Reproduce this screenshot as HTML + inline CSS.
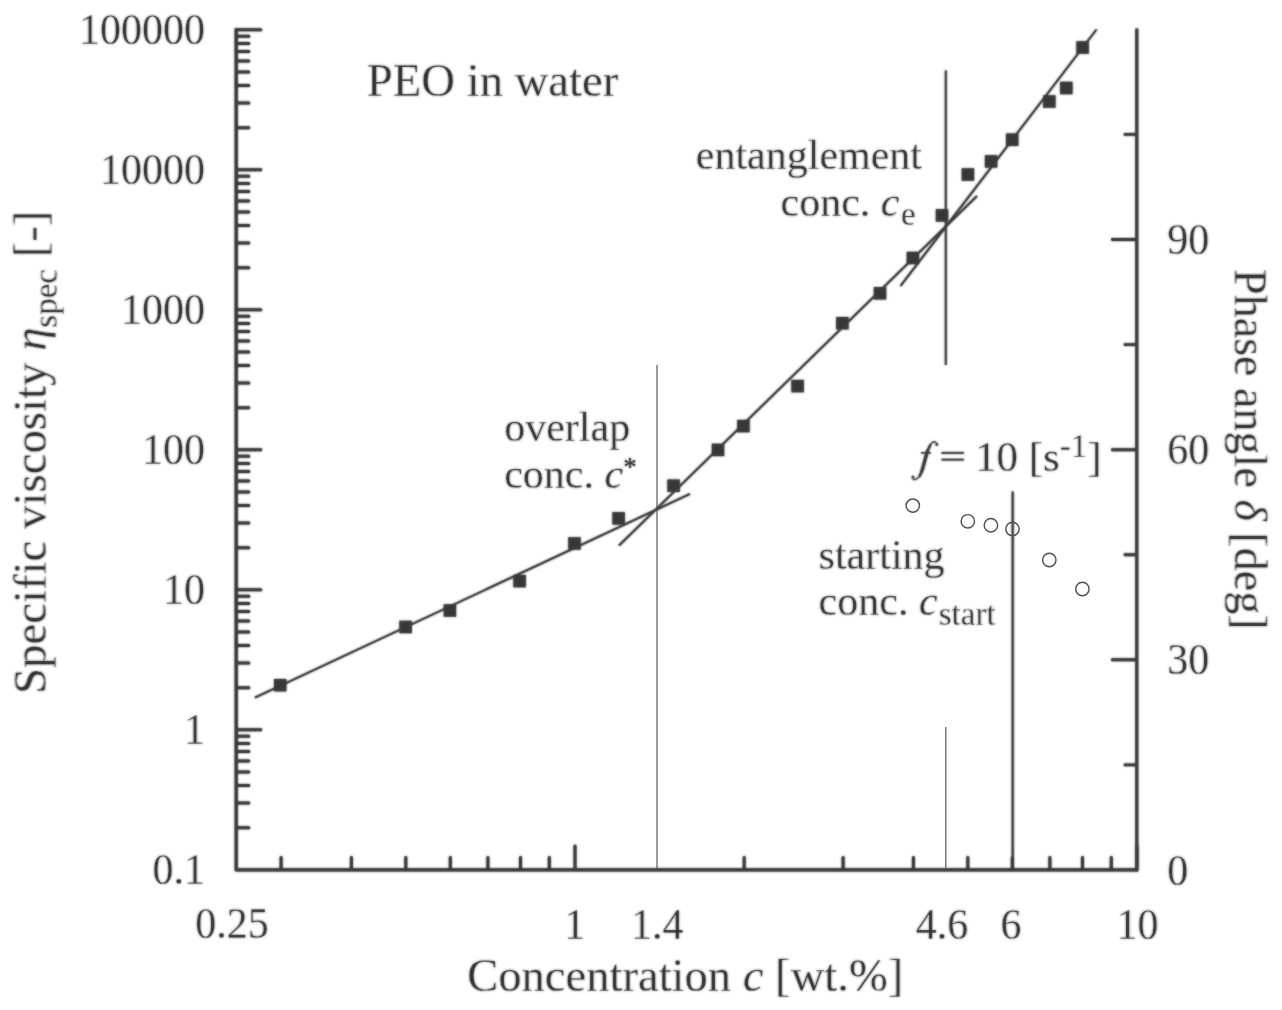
<!DOCTYPE html>
<html><head><meta charset="utf-8"><title>PEO in water</title>
<style>
html,body{margin:0;padding:0;background:#fff;}
body{width:1282px;height:1010px;position:relative;overflow:hidden;font-family:"Liberation Serif",serif;}
</style></head><body>
<svg width="1282" height="1010" viewBox="0 0 1282 1010" style="position:absolute;left:0;top:0">
<defs><filter id="b" filterUnits="userSpaceOnUse" x="0" y="0" width="1282" height="1010"><feGaussianBlur stdDeviation="0.8"/></filter><g id="all">
<g stroke="#393939" fill="none" stroke-linecap="butt">
<path d="M236.2 28.2 V869.9 H1137" stroke-width="3.2" stroke-linejoin="round"/>
<path d="M1136.8 28.4 V871.5" stroke-width="3.0"/>
<path d="M237.5 827.7H248.8 M237.5 803.0H248.8 M237.5 785.5H248.8 M237.5 771.9H248.8 M237.5 760.9H248.8 M237.5 751.5H248.8 M237.5 743.4H248.8 M237.5 736.2H248.8 M237.5 729.8H260.8 M237.5 687.7H248.8 M237.5 663.0H248.8 M237.5 645.5H248.8 M237.5 631.9H248.8 M237.5 620.9H248.8 M237.5 611.5H248.8 M237.5 603.4H248.8 M237.5 596.2H248.8 M237.5 589.8H260.8 M237.5 547.7H248.8 M237.5 523.0H248.8 M237.5 505.5H248.8 M237.5 491.9H248.8 M237.5 480.9H248.8 M237.5 471.5H248.8 M237.5 463.4H248.8 M237.5 456.2H248.8 M237.5 449.8H260.8 M237.5 407.7H248.8 M237.5 383.0H248.8 M237.5 365.5H248.8 M237.5 351.9H248.8 M237.5 340.9H248.8 M237.5 331.5H248.8 M237.5 323.4H248.8 M237.5 316.2H248.8 M237.5 309.8H260.8 M237.5 267.7H248.8 M237.5 243.0H248.8 M237.5 225.5H248.8 M237.5 211.9H248.8 M237.5 200.9H248.8 M237.5 191.5H248.8 M237.5 183.4H248.8 M237.5 176.2H248.8 M237.5 169.8H260.8 M237.5 127.7H248.8 M237.5 103.0H248.8 M237.5 85.5H248.8 M237.5 71.9H248.8 M237.5 60.9H248.8 M237.5 51.5H248.8 M237.5 43.4H248.8 M237.5 36.2H248.8 M237.5 29.8H260.8" stroke-width="3.0" stroke-linecap="round"/>
<path d="M281.1 868.5V857.4 M351.4 868.5V857.4 M405.8 868.5V857.4 M450.3 868.5V857.4 M487.9 868.5V857.4 M520.5 868.5V857.4 M549.3 868.5V857.4 M744.2 868.5V857.4 M843.1 868.5V857.4 M913.4 868.5V857.4 M967.8 868.5V857.4 M1012.3 868.5V857.4 M1049.9 868.5V857.4 M1082.5 868.5V857.4 M1111.3 868.5V857.4 M575.0 868.5V846 M1137.0 868.5V846" stroke-width="3.0" stroke-linecap="round"/>
<path d="M1135.5 659.8H1112.4 M1135.5 449.7H1112.4 M1135.5 239.5H1112.4 M1135.5 764.9H1125 M1135.5 554.8H1125 M1135.5 344.6H1125 M1135.5 134.4H1125" stroke-width="2.9" stroke-linecap="round"/>
<path d="M945.8 70.5V365" stroke-width="1.9"/>
<path d="M1012.7 491.5V870" stroke-width="2.1"/>
<path d="M254.9 697.7L690 493.9" stroke-width="2.0"/>
<path d="M619 545.5L977 196" stroke-width="2.0"/>
<path d="M900.5 286L1096.5 29.5" stroke-width="2.0"/>
</g>
<g fill="#393939">
<rect x="274.0" y="679.0" width="12.4" height="12.4"/>
<rect x="399.4" y="620.8" width="12.4" height="12.4"/>
<rect x="443.7" y="604.3" width="12.4" height="12.4"/>
<rect x="513.4" y="574.9" width="12.4" height="12.4"/>
<rect x="568.3" y="537.3" width="12.4" height="12.4"/>
<rect x="612.4" y="512.2" width="12.4" height="12.4"/>
<rect x="667.4" y="479.5" width="12.4" height="12.4"/>
<rect x="711.8" y="443.7" width="12.4" height="12.4"/>
<rect x="737.2" y="419.9" width="12.4" height="12.4"/>
<rect x="791.4" y="379.9" width="12.4" height="12.4"/>
<rect x="836.2" y="317.0" width="12.4" height="12.4"/>
<rect x="873.8" y="287.1" width="12.4" height="12.4"/>
<rect x="906.7" y="251.8" width="12.4" height="12.4"/>
<rect x="935.8" y="209.2" width="12.4" height="12.4"/>
<rect x="961.7" y="168.3" width="12.4" height="12.4"/>
<rect x="984.9" y="155.2" width="12.4" height="12.4"/>
<rect x="1006.0" y="133.5" width="12.4" height="12.4"/>
<rect x="1043.1" y="95.3" width="12.4" height="12.4"/>
<rect x="1060.1" y="81.8" width="12.4" height="12.4"/>
<rect x="1076.4" y="41.3" width="12.4" height="12.4"/>
</g>
<g fill="#2c2c2c" font-family="Liberation Serif, serif" stroke="#fff" stroke-width="0.3">
<text transform="translate(205 44.4) scale(1 1.045)" font-size="42" text-anchor="end">100000</text>
<text transform="translate(205 184.4) scale(1 1.045)" font-size="42" text-anchor="end">10000</text>
<text transform="translate(205 324.4) scale(1 1.045)" font-size="42" text-anchor="end">1000</text>
<text transform="translate(205 464.4) scale(1 1.045)" font-size="42" text-anchor="end">100</text>
<text transform="translate(205 604.4) scale(1 1.045)" font-size="42" text-anchor="end">10</text>
<text transform="translate(205 744.4) scale(1 1.045)" font-size="42" text-anchor="end">1</text>
<text transform="translate(205 884.4) scale(1 1.045)" font-size="42" text-anchor="end">0.1</text>
<text transform="translate(232 938.5) scale(1 1.045)" font-size="42" text-anchor="middle">0.25</text>
<text transform="translate(574.8 938.5) scale(1 1.045)" font-size="42" text-anchor="middle">1</text>
<text transform="translate(657.3 938.5) scale(1 1.045)" font-size="42" text-anchor="middle">1.4</text>
<text transform="translate(942 938.5) scale(1 1.045)" font-size="42" text-anchor="middle">4.6</text>
<text transform="translate(1011 938.5) scale(1 1.045)" font-size="42" text-anchor="middle">6</text>
<text transform="translate(1137.6 938.5) scale(1 1.045)" font-size="42" text-anchor="middle">10</text>
<text transform="translate(1167.2 884.6) scale(1 1.045)" font-size="42" text-anchor="start">0</text>
<text transform="translate(1167.2 674.4) scale(1 1.045)" font-size="42" text-anchor="start">30</text>
<text transform="translate(1167.2 464.3) scale(1 1.045)" font-size="42" text-anchor="start">60</text>
<text transform="translate(1167.2 254.1) scale(1 1.045)" font-size="42" text-anchor="start">90</text>
<text x="366.8" y="95.7" font-size="46.7">PEO in water</text>
<text x="695.8" y="169.2" font-size="42">entanglement</text>
<text x="780.5" y="215.8" font-size="42">conc. <tspan font-style="italic">c</tspan><tspan font-size="33" dy="9.3" dx="1.5">e</tspan></text>
<text x="504.2" y="441.2" font-size="42">overlap</text>
<text x="504.2" y="488.2" font-size="42">conc. <tspan font-style="italic">c</tspan><tspan font-size="27" dy="-12.3" stroke="none">*</tspan></text>
<path d="M941.5 452.9H963.9M941.5 459.6H963.9" stroke="#393939" stroke-width="1.9" fill="none"/><text x="974.9" y="470.9" font-size="43">10 [s<tspan font-size="33" dy="-14">-1</tspan><tspan dy="14">]</tspan></text>
<g fill="none" stroke="#393939" stroke-linecap="round" stroke-linejoin="round"><path d="M936.6 444.6C936.9 442.6 935.4 441.9 934.2 441.9C932.3 441.9 930.9 443.6 929.6 446.2C928.4 448.6 927.4 451 926.6 453.6L922.4 469C921.5 472.3 920.6 474.6 919.3 476.5C917.9 478.5 916.3 479.7 914.6 479.7C913.4 479.7 912.7 478.9 912.9 477.4" stroke-width="1.3"/><path d="M930.2 445.4C928.6 448.2 927.5 450.9 926.7 453.6L922.5 469C921.7 472 920.8 474.3 919.6 476" stroke-width="2.3"/><path d="M927.6 450.8L926.6 454L922.8 468L921.8 471" stroke-width="3"/><path d="M921 452.9H930.8" stroke-width="1.5" stroke-linecap="butt"/></g>
<circle cx="936.8" cy="444.4" r="1.6" fill="#393939"/><circle cx="913" cy="477.2" r="1.6" fill="#393939"/>
<text x="818.6" y="568.7" font-size="42">starting</text>
<text x="818.6" y="615.3" font-size="42">conc. <tspan font-style="italic">c</tspan><tspan font-size="33" dy="9.8" dx="1.2">start</tspan></text>
<text x="685.2" y="991" font-size="46.6" text-anchor="middle">Concentration <tspan font-style="italic">c</tspan> [wt.%]</text>
<text transform="translate(45.7 694) rotate(-90)" font-size="46.8">Specific viscosity <tspan font-style="italic">η</tspan><tspan font-size="33" dy="11">spec</tspan><tspan dy="-11"> [-]</tspan></text>
<text transform="translate(1234.8 269) rotate(90)" font-size="46.1">Phase angle <tspan font-style="italic">δ</tspan> [deg]</text>
</g>
</g></defs><use href="#all" filter="url(#b)"/><use href="#all" opacity="0.65"/>
<path d="M657 365V868.4M945.8 727V868.4" stroke-width="1.1" stroke="#4c4c4c" fill="none"/>
<g fill="none" stroke="#505050" stroke-width="1.45">
<circle cx="912.8" cy="505.6" r="6.7"/>
<circle cx="967.8" cy="521.3" r="6.7"/>
<circle cx="990.9" cy="525.2" r="6.7"/>
<circle cx="1012.5" cy="528.9" r="6.7"/>
<circle cx="1049.3" cy="560" r="6.7"/>
<circle cx="1082.4" cy="589" r="6.7"/>
</g>
</svg>
</body></html>
